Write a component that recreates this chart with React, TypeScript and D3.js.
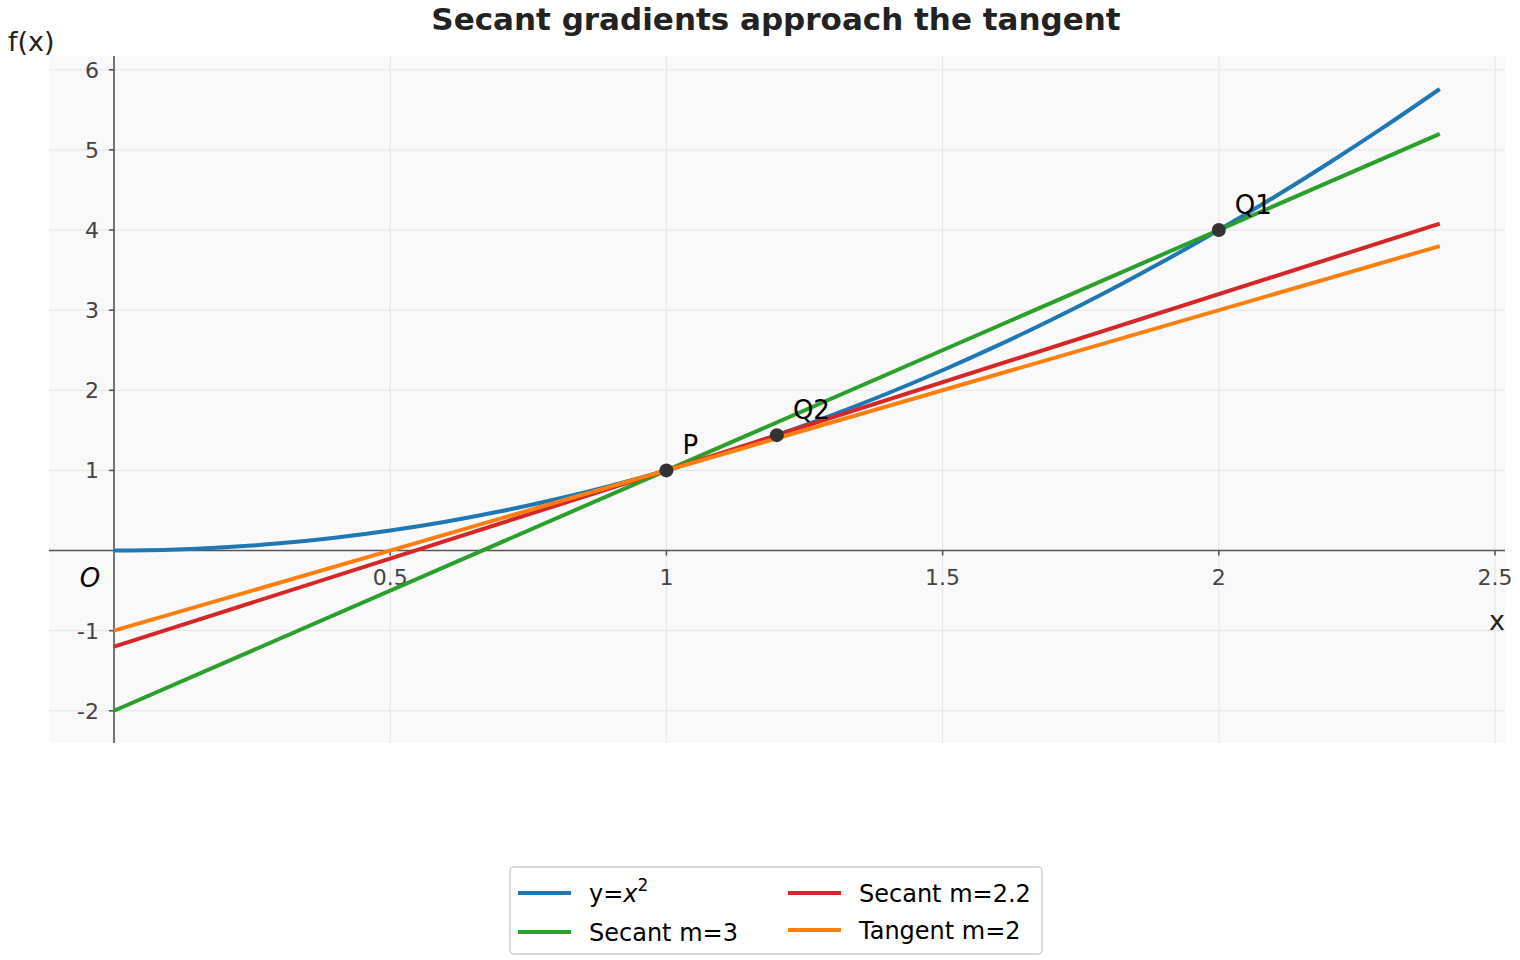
import { useEffect, useRef } from "react";
import * as d3 from "d3";

// sampled points of y = x^2
const curveX = [0, 0.1, 0.2, 0.3, 0.4, 0.5, 0.6, 0.7, 0.8, 0.9, 1, 1.1, 1.2, 1.3, 1.4, 1.5, 1.6, 1.7, 1.8, 1.9, 2, 2.1, 2.2, 2.3, 2.4];
const curveY = [0, 0.01, 0.04, 0.09, 0.16, 0.25, 0.36, 0.49, 0.64, 0.81, 1, 1.21, 1.44, 1.69, 1.96, 2.25, 2.56, 2.89, 3.24, 3.61, 4, 4.41, 4.84, 5.29, 5.76];

// straight lines: end points
const lineX = [0, 2.4];
const secant3Y = [-2, 5.2];
const secant22Y = [-1.2, 4.08];
const tangentY = [-1, 3.8];

const pointNames = ["P", "Q1", "Q2"];
const pointX = [1, 2, 1.2];
const pointY = [1, 4, 1.44];

const xTicks = [0.5, 1, 1.5, 2, 2.5];
const yTicks = [-2, -1, 1, 2, 3, 4, 5, 6];

const FONT = "DejaVu Sans, sans-serif";

export default function App() {
  const ref = useRef<SVGSVGElement>(null);

  useEffect(() => {
    const W = 1520, H = 960;
    const L = 49, R = 1505, T = 56, B = 743;
    const svg = d3.select(ref.current);
    svg.selectAll("*").remove();

    const x = d3.scaleLinear().domain([-0.1177, 2.5181]).range([L, R]);
    const y = d3.scaleLinear().domain([-2.402, 6.172]).range([B, T]);

    svg.append("rect").attr("width", W).attr("height", H).attr("fill", "#fff");
    svg.append("rect").attr("x", L).attr("y", T).attr("width", R - L).attr("height", B - T).attr("fill", "#f9f9f9");

    // grid
    const grid = svg.append("g").attr("stroke", "#e4e4ea").attr("stroke-width", 1);
    [0, ...xTicks].forEach((t) => grid.append("line").attr("x1", x(t)).attr("x2", x(t)).attr("y1", T).attr("y2", B));
    yTicks.forEach((t) => grid.append("line").attr("x1", L).attr("x2", R).attr("y1", y(t)).attr("y2", y(t)));

    // axes through origin
    const ax = svg.append("g").attr("stroke", "#555").attr("stroke-width", 1.6);
    ax.append("line").attr("x1", L).attr("x2", R).attr("y1", y(0)).attr("y2", y(0));
    ax.append("line").attr("x1", x(0)).attr("x2", x(0)).attr("y1", T).attr("y2", B);
    xTicks.forEach((t) => ax.append("line").attr("x1", x(t)).attr("x2", x(t)).attr("y1", y(0)).attr("y2", y(0) + 5));
    yTicks.forEach((t) => ax.append("line").attr("x1", x(0) - 5).attr("x2", x(0)).attr("y1", y(t)).attr("y2", y(t)));

    const tl = svg.append("g").attr("font-family", FONT).attr("font-size", 22).attr("fill", "#444");
    xTicks.forEach((t) =>
      tl.append("text").attr("x", x(t)).attr("y", y(0) + 34).attr("text-anchor", "middle").text(String(t))
    );
    yTicks.forEach((t) =>
      tl.append("text").attr("x", x(0) - 15).attr("y", y(t) + 8).attr("text-anchor", "end").text(String(t))
    );

    const line = d3.line<[number, number]>().x((d) => x(d[0])).y((d) => y(d[1])).curve(d3.curveMonotoneX);
    const series: [number[], number[], string][] = [
      [curveX, curveY, "#1f77b4"],
      [lineX, secant3Y, "#2ca02c"],
      [lineX, secant22Y, "#d62728"],
      [lineX, tangentY, "#ff7f0e"],
    ];
    series.forEach(([xs, ys, c]) => {
      svg.append("path")
        .attr("d", line(xs.map((v, i) => [v, ys[i]] as [number, number])))
        .attr("fill", "none").attr("stroke", c).attr("stroke-width", 4);
    });

    pointNames.forEach((n, i) => {
      svg.append("circle").attr("cx", x(pointX[i])).attr("cy", y(pointY[i])).attr("r", 7).attr("fill", "#333");
      svg.append("text").attr("x", x(pointX[i]) + 16).attr("y", y(pointY[i]) - 16)
        .attr("font-family", FONT).attr("font-size", 26).attr("fill", "#000").text(n);
    });

    svg.append("text").attr("x", 90).attr("y", 587).attr("text-anchor", "middle")
      .attr("font-family", FONT).attr("font-size", 26).attr("font-style", "italic").text("O");
    svg.append("text").attr("x", 1497).attr("y", 630).attr("text-anchor", "middle")
      .attr("font-family", FONT).attr("font-size", 27).attr("fill", "#222").text("x");
    svg.append("text").attr("x", 8).attr("y", 51)
      .attr("font-family", FONT).attr("font-size", 27).attr("fill", "#222").text("f(x)");
    svg.append("text").attr("x", 776).attr("y", 30).attr("text-anchor", "middle")
      .attr("font-family", FONT).attr("font-size", 31).attr("font-weight", "bold").attr("fill", "#222")
      .text("Secant gradients approach the tangent");

    // legend
    const lg = svg.append("g");
    lg.append("rect").attr("x", 510).attr("y", 867).attr("width", 532).attr("height", 87).attr("rx", 4)
      .attr("fill", "#fff").attr("stroke", "#ccc").attr("stroke-width", 1.5);
    const items: [string, string, number, number][] = [
      ["", "#1f77b4", 518, 893],
      ["Secant m=3", "#2ca02c", 518, 932],
      ["Secant m=2.2", "#d62728", 788, 893],
      ["Tangent m=2", "#ff7f0e", 788, 930],
    ];
    items.forEach(([label, c, lx, ly], i) => {
      lg.append("line").attr("x1", lx).attr("x2", lx + 53).attr("y1", ly).attr("y2", ly).attr("stroke", c).attr("stroke-width", 4);
      const t = lg.append("text").attr("x", lx + 71).attr("y", ly + 9).attr("font-family", FONT).attr("font-size", 24).attr("fill", "#000");
      if (i === 0) {
        t.append("tspan").text("y=");
        t.append("tspan").attr("font-style", "italic").text("x");
        t.append("tspan").attr("font-size", 17).attr("dy", -11).text("2");
      } else t.text(label);
    });
  }, []);

  return <svg ref={ref} width={1520} height={960} style={{ position: "fixed", top: 0, left: 0 }} />;
}
